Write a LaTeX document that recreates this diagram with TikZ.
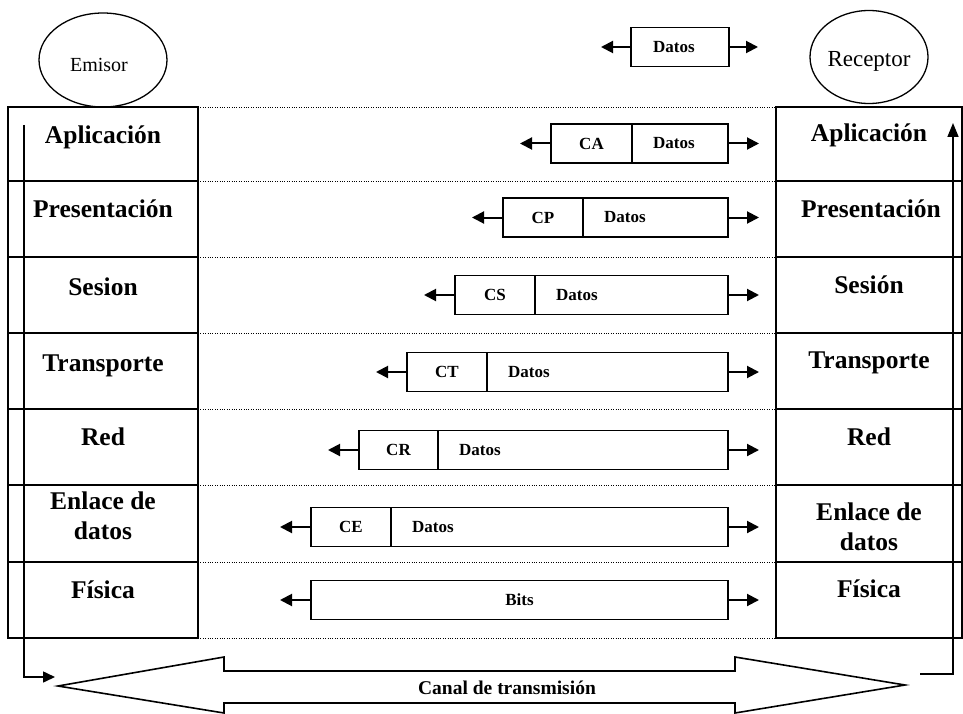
\documentclass[tikz,border=0pt]{standalone}
\usepackage{fontspec}
\setmainfont{Liberation Serif}
\usetikzlibrary{arrows.meta,shapes.geometric}
\begin{document}
\begin{tikzpicture}[x=1pt,y=-1pt,
  layerbox/.style={draw, line width=1.6pt, inner sep=0pt, outer sep=0pt, minimum width=#1},
  layertext/.style={font=\fontsize{25.5}{30}\selectfont\bfseries, align=center, inner sep=0pt},
  rowline/.style={line width=0.9pt, dash pattern=on 1pt off 1.4pt},
  pdubox/.style={draw, line width=1.6pt, inner sep=0pt, outer sep=0pt, minimum height=39pt,
                 font=\fontsize{17}{20}\selectfont\bfseries},
  pdutext/.style={font=\fontsize{17}{20}\selectfont\bfseries, inner sep=0pt},
  pduarrow/.style={line width=2pt, -{Triangle[length=12pt,width=12pt]}},
  endpoint/.style={draw, ellipse, line width=1.3pt, inner sep=0pt},
]
\useasboundingbox (0,0) rectangle (963,714);

% end systems
\node[endpoint, minimum width=128pt, minimum height=94pt] (emisor) at (103,60) {};
\node[font=\fontsize{20}{24}\selectfont, anchor=base, inner sep=0pt] (emisorT) at (99,72) {Emisor};
\node[endpoint, minimum width=118pt, minimum height=93pt] (receptor) at (869,57) {};
\node[font=\fontsize{23}{26}\selectfont, anchor=base, inner sep=0pt] (receptorT) at (869,67) {Receptor};

% protocol stacks on both sides, joined by dotted row boundaries
\foreach \n/\t/\b in {apl/107/181, pre/181/257, ses/257/333, tra/333/409,
                      red/409/485, enl/485/562, fis/562/638} {
  \node[layerbox=190pt, minimum height={\b-\t}] (e-\n) at (103,{(\t+\b)/2}) {};
  \node[layerbox=186pt, minimum height={\b-\t}] (r-\n) at (869,{(\t+\b)/2}) {};
  \draw[rowline] (e-\n.north east) -- (r-\n.north west);
}
\draw[rowline] (e-fis.south east) -- (r-fis.south west);

% layer names, sender side
\node[layertext, anchor=base] (eAplT) at (103,144) {Aplicación};
\node[layertext, anchor=base] (ePreT) at (103,218) {Presentación};
\node[layertext, anchor=base] (eSesT) at (103,295) {Sesion};
\node[layertext, anchor=base] (eTraT) at (103,371) {Transporte};
\node[layertext, anchor=base] (eRedT) at (103,445) {Red};
\node[layertext] (eEnlT) at (103,516) {Enlace de\\datos};
\node[layertext, anchor=base] (eFisT) at (103,598) {Física};

% layer names, receiver side
\node[layertext, anchor=base] (rAplT) at (869,142) {Aplicación};
\node[layertext, anchor=base] (rPreT) at (871,217) {Presentación};
\node[layertext, anchor=base] (rSesT) at (869,293) {Sesión};
\node[layertext, anchor=base] (rTraT) at (869,368) {Transporte};
\node[layertext, anchor=base] (rRedT) at (869,445) {Red};
\node[layertext] (rEnlT) at (869,527) {Enlace de\\datos};
\node[layertext, anchor=base] (rFisT) at (869,597) {Física};

% user data at the top
\node[pdubox, minimum width=98pt] (d0) at (680,47) {};
\node[pdutext, anchor=west] (d0T) at ([xshift=22pt]d0.west) {Datos};
\draw[pduarrow] (d0.west) -- ++(-30,0);
\draw[pduarrow] (d0.east) -- ++(29,0);

% encapsulated units: header + data
\foreach \n/\h/\l/\x/\y in {ca/CA/551/632/143.5, cp/CP/503/583/217.5, cs/CS/455/535/295,
                            ct/CT/407/487/372, cr/CR/359/438/450, ce/CE/311/391/527} {
  \node[pdubox, minimum width={\x-\l}, anchor=west] (\n-h) at (\l,\y) {\h};
  \node[pdubox, minimum width={728-\x}, anchor=west] (\n-d) at (\n-h.east) {};
  \node[pdutext, anchor=west] (\n-t) at ([xshift=21pt]\n-d.west) {Datos};
  \draw[pduarrow] (\n-h.west) -- ++(-31,0);
  \draw[pduarrow] (\n-d.east) -- ++(31,0);
}

% physical layer bits
\node[pdubox, minimum width=417pt, anchor=west] (bits) at (311,600) {Bits};
\draw[pduarrow] (bits.west) -- ++(-31,0);
\draw[pduarrow] (bits.east) -- ++(31,0);

% transmission channel
\draw[line width=1.6pt, line join=miter]
  (58,686) -- (224,657) -- (224,671) -- (735,671) -- (735,657) -- (905,685)
  -- (735,713) -- (735,703) -- (224,703) -- (224,713) -- cycle;
\node[font=\fontsize{19.5}{22}\selectfont\bfseries, inner sep=0pt, anchor=base] (canal) at (507,694) {Canal de transmisión};

% flow down the sender stack and up the receiver stack
\coordinate (sendTop) at (24,125);
\coordinate (sendEnd) at (55,677);
\coordinate (recvStart) at (920,674);
\coordinate (recvTop) at (953,123);
\draw[line width=1.6pt, -{Triangle[length=12pt,width=11pt]}] (sendTop) |- (sendEnd);
\draw[line width=1.6pt, -{Triangle[length=14pt,width=11pt]}] (recvStart) -| (recvTop);
\end{tikzpicture}
\end{document}
